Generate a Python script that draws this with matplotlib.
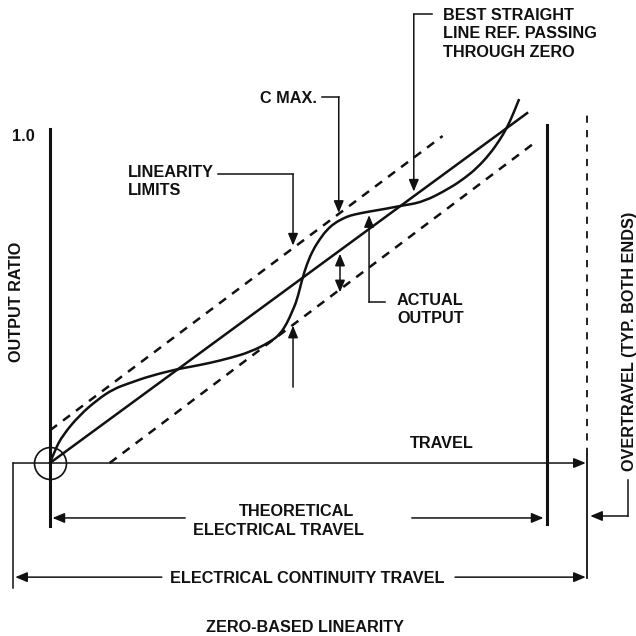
import matplotlib.pyplot as plt
from matplotlib.path import Path
from matplotlib.patches import PathPatch

# x = travel (1.0 = end of theoretical electrical travel), y = output ratio
ref_travel = [0.0, 0.96]
ref_ratio = [0.0, 1.07]

upper_travel = [0.0, 0.79]
upper_ratio = [0.10, 1.0]
lower_travel = [0.12, 0.98]
lower_ratio = [0.0, 0.985]

actual_travel = [0.0, 0.010, 0.026, 0.060, 0.095, 0.127, 0.161, 0.201, 0.256,
                 0.282, 0.322, 0.362, 0.402, 0.443, 0.463, 0.477, 0.487, 0.497,
                 0.507, 0.517, 0.529, 0.543, 0.557, 0.573, 0.590, 0.604, 0.625,
                 0.650, 0.674, 0.704, 0.751, 0.805, 0.835, 0.859, 0.885, 0.905,
                 0.919, 0.932, 0.944]
actual_ratio = [0.0, 0.040, 0.086, 0.147, 0.193, 0.226, 0.245, 0.266, 0.287,
                0.294, 0.306, 0.321, 0.339, 0.370, 0.394, 0.428, 0.462, 0.498,
                0.560, 0.609, 0.651, 0.685, 0.713, 0.734, 0.748, 0.757, 0.764,
                0.771, 0.777, 0.786, 0.798, 0.841, 0.872, 0.902, 0.945, 0.988,
                1.024, 1.067, 1.113]

ink = '#111111'
font = 'Liberation Sans'
fs = 11.7

fig = plt.figure(figsize=(6.36, 6.36), dpi=100)
ax = fig.add_axes([0, 0, 1, 1])
ax.set_xlim(-0.1006, 1.1791)
ax.set_ylim(-0.529, 1.4159)
ax.axis('off')


def arrow(x0, y0, x1, y1, style='-|>'):
    ax.annotate('', xy=(x1, y1), xytext=(x0, y0),
                arrowprops=dict(arrowstyle=style + ',head_length=0.6,head_width=0.25',
                                lw=1.1, color=ink, shrinkA=0, shrinkB=0,
                                mutation_scale=12))


def label(x, y, s, **kw):
    kw.setdefault('ha', 'left')
    kw.setdefault('va', 'center')
    ax.text(x, y, s, fontsize=fs, family=font, weight='bold', color=ink, **kw)


def smooth_curve(xs, ys, **kw):
    # quadratic bezier through midpoints, read points act as control points
    pts = list(zip(xs, ys))
    verts = [pts[0]]
    codes = [Path.MOVETO]
    for i in range(1, len(pts) - 1):
        mid = ((pts[i][0] + pts[i + 1][0]) / 2, (pts[i][1] + pts[i + 1][1]) / 2)
        if i == len(pts) - 2:
            mid = pts[-1]
        verts += [pts[i], mid]
        codes += [Path.CURVE3, Path.CURVE3]
    ax.add_patch(PathPatch(Path(verts, codes), fill=False, **kw))


# frame lines
ax.plot([0, 0], [-0.193, 1.021], color=ink, lw=2.2)
ax.plot([1.0, 1.0], [-0.187, 1.034], color=ink, lw=2.2)
ax.plot([1.0805, 1.0805], [0.024, 1.064], color=ink, lw=1.3, ls=(0, (4, 4)))
ax.plot([1.0805, 1.0805], [-0.352, 0.024], color=ink, lw=1.3)
ax.plot([-0.0744, -0.0744], [-0.382, 0.0], color=ink, lw=1.1)
arrow(-0.0744, 0.0, 1.078, 0.0)
ax.plot([0], [0], marker='o', ms=23, mfc='none', mec=ink, mew=1.2)

# curves
ax.plot(ref_travel, ref_ratio, color=ink, lw=1.8)
ax.plot(upper_travel, upper_ratio, color=ink, lw=1.8, ls=(0, (3.5, 3)))
ax.plot(lower_travel, lower_ratio, color=ink, lw=1.8, ls=(0, (3.5, 3)))
smooth_curve(actual_travel, actual_ratio, edgecolor=ink, lw=1.8)

# travel dimension arrows
arrow(0.272, -0.168, 0.005, -0.168)
arrow(0.728, -0.168, 0.993, -0.168)
arrow(0.225, -0.349, -0.070, -0.349)
arrow(0.815, -0.349, 1.078, -0.349)
ax.plot([1.163, 1.163], [-0.052, -0.162], color=ink, lw=1.1)
arrow(1.163, -0.162, 1.087, -0.162)

# leaders
ax.plot([0.338, 0.489], [0.884, 0.884], color=ink, lw=1.1)
arrow(0.489, 0.884, 0.489, 0.665)
arrow(0.489, 0.232, 0.489, 0.420)
ax.plot([0.547, 0.581], [1.119, 1.119], color=ink, lw=1.1)
arrow(0.581, 1.119, 0.581, 0.765)
ax.plot([0.769, 0.732], [1.373, 1.373], color=ink, lw=1.1)
arrow(0.732, 1.373, 0.732, 0.830)
ax.plot([0.674, 0.642], [0.492, 0.492], color=ink, lw=1.1)
arrow(0.642, 0.492, 0.642, 0.758)
arrow(0.5835, 0.522, 0.5835, 0.640, style='<|-|>')

# text
label(-0.0543, 1.0, '1.0', ha='center')
label(-0.0664, 0.492, 'OUTPUT RATIO', ha='center', rotation=90)
label(1.167, 0.373, 'OVERTRAVEL (TYP. BOTH ENDS)', ha='center', rotation=90)
label(0.157, 0.887, 'LINEARITY')
label(0.157, 0.832, 'LIMITS')
label(0.4225, 1.116, 'C MAX.')
label(0.791, 1.370, 'BEST STRAIGHT')
label(0.791, 1.312, 'LINE REF. PASSING')
label(0.791, 1.254, 'THROUGH ZERO')
label(0.698, 0.498, 'ACTUAL')
label(0.698, 0.443, 'OUTPUT')
label(0.724, 0.061, 'TRAVEL')
label(0.497, -0.147, 'THEORETICAL', ha='center')
label(0.459, -0.205, 'ELECTRICAL TRAVEL', ha='center')
label(0.517, -0.352, 'ELECTRICAL CONTINUITY TRAVEL', ha='center')
label(0.513, -0.502, 'ZERO-BASED LINEARITY', ha='center')

fig.savefig('out.png', dpi=100, facecolor='white')
